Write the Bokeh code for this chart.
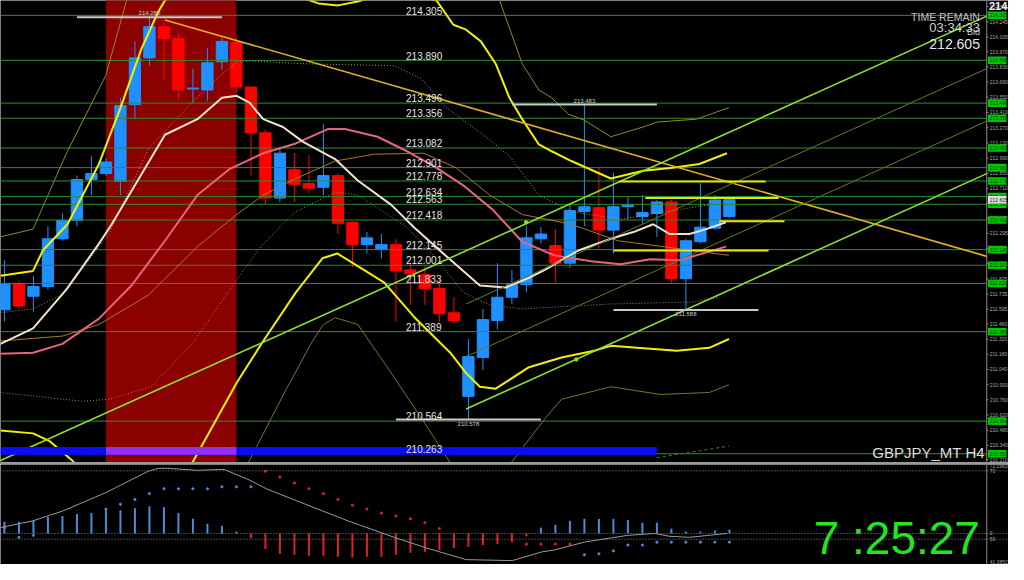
import numpy as np
from bokeh.plotting import figure
from bokeh.layouts import column
from bokeh.models import Range1d, Span
from bokeh.core.properties import value
from bokeh.embed import file_html
from bokeh.resources import INLINE

# ---------------- candles (H4 GBPJPY) ----------------
bars = list(range(51))
opens = [211.590, 211.832, 211.715, 211.805, 212.245, 212.415, 212.792, 212.846, 212.774, 213.482,
         213.913, 214.200, 214.092, 213.626, 213.617, 213.877, 214.056, 213.644, 213.222, 212.621,
         212.881, 212.756, 212.720, 212.828, 212.397, 212.191, 212.146, 212.191, 211.958, 211.913,
         211.787, 211.563, 210.792, 211.150, 211.491, 211.706, 211.823, 212.245, 212.182, 212.020,
         212.496, 212.532, 212.325, 212.541, 212.451, 212.478, 212.585, 211.877, 212.218, 212.343,
         212.451]
closes = [211.832, 211.626, 211.805, 212.245, 212.415, 212.792, 212.846, 212.953, 213.473, 213.913,
          214.200, 214.092, 213.617, 213.635, 213.868, 214.065, 213.644, 213.222, 212.621, 213.034,
          212.747, 212.711, 212.828, 212.388, 212.191, 212.254, 212.191, 211.949, 211.922, 211.787,
          211.554, 211.491, 211.159, 211.500, 211.706, 211.823, 212.254, 212.289, 212.020, 212.505,
          212.541, 212.325, 212.541, 212.558, 212.487, 212.585, 211.877, 212.227, 212.352, 212.603,
          212.605]
highs = [212.047, 211.859, 211.904, 212.361, 212.478, 212.828, 213.007, 212.989, 213.545, 214.065,
         214.288, 214.263, 214.146, 213.814, 214.003, 214.101, 214.101, 213.653, 213.249, 213.079,
         213.034, 213.016, 213.303, 212.846, 212.406, 212.307, 212.289, 212.245, 212.020, 211.993,
         211.868, 211.706, 211.321, 211.599, 212.020, 211.958, 212.361, 212.352, 212.334, 212.558,
         213.483, 212.899, 212.855, 212.630, 212.648, 212.603, 212.603, 212.245, 212.756, 212.648,
         212.612]
lows = [211.482, 211.599, 211.572, 211.778, 212.227, 212.361, 212.648, 212.828, 212.648, 213.348,
        213.841, 213.707, 213.518, 213.500, 213.518, 213.805, 213.590, 212.828, 212.558, 212.585,
        212.585, 212.666, 212.648, 212.289, 211.982, 212.110, 212.065, 211.482, 211.635, 211.635,
        211.482, 211.464, 210.578, 211.034, 211.410, 211.644, 211.751, 212.200, 211.841, 211.976,
        212.361, 212.155, 212.110, 212.424, 212.379, 212.263, 211.841, 211.588, 212.200, 212.325,
        212.433]

# ---------------- horizontal levels ----------------
levels = [214.305, 213.890, 213.496, 213.356, 213.082, 212.901, 212.778, 212.634, 212.563,
          212.418, 212.145, 212.001, 211.833, 211.389, 210.564, 210.263]
bid = 212.605
axis_ticks = [214.385, 214.245, 214.105, 213.970, 213.830, 213.690, 213.550, 213.410, 213.270,
              213.130, 212.990, 212.850, 212.710, 212.570, 212.435, 212.295, 212.155, 212.015,
              211.875, 211.735, 211.595, 211.460, 211.320, 211.180, 211.040, 210.900, 210.760,
              210.620, 210.480, 210.340, 210.210]

zone_start, zone_end = 7, 16
band_low, band_high, band_end = 210.255, 210.325, 45

hl_bar = [10, 40, 32, 47]
hl_price = [214.288, 213.483, 210.578, 211.588]
hl_is_high = [True, True, False, False]

sr_price = [212.774, 212.621, 212.406, 212.137]
sr_from = [42.4, 44.2, 49.3, 42.0]
sr_to = [52.5, 53.4, 53.8, 52.7]

# ---------------- trend lines ----------------
tl_down_x, tl_down_y = [11.07, 67.75], [214.263, 212.083]
ch1_x, ch1_y = [-0.27, 67.75], [210.200, 214.298]
ch2_x, ch2_y = [31.84, 67.75], [210.675, 212.846]
chA_x, chA_y = [31.84, 67.75], [211.644, 213.814]
chB_x, chB_y = [31.84, 67.75], [211.159, 213.330]
anchor_x, anchor_y = [35.98, 39.44], [212.397, 211.133]
dash_x, dash_y = [45.0, 49.97], [210.227, 210.334]

# ---------------- moving averages / bands ----------------
ma_fast_x = [-0.27, 1.97, 4.28, 6.52, 7.40, 11.07, 13.31, 15.0, 16.02, 16.9, 17.85, 19.21, 20.57,
             22.81, 24.37, 26.68, 28.24, 30.48, 32.79, 34.56, 36.18, 37.27, 39.58, 41.82, 43.38,
             44.74, 45.89, 47.25, 48.4, 49.76]
ma_fast_y = [211.276, 211.419, 211.778, 212.200, 212.379, 213.204, 213.348, 213.545, 213.563,
             213.500, 213.348, 213.276, 213.141, 212.980, 212.783, 212.558, 212.352, 212.083,
             211.814, 211.796, 211.886, 211.958, 212.137, 212.245, 212.307, 212.379, 212.289,
             212.289, 212.334, 212.397]
ma_slow_x = [-0.27, 1.97, 4.0, 6.52, 8.76, 11.07, 13.31, 15.55, 17.85, 20.1, 22.34, 23.49, 25.73,
             27.77, 29.6, 31.64, 33.67, 35.71, 37.95, 40.46, 42.5, 44.53, 46.57, 49.76]
ma_slow_y = [211.186, 211.195, 211.276, 211.509, 211.814, 212.227, 212.648, 212.890, 213.034,
             213.124, 213.258, 213.258, 213.186, 213.052, 212.917, 212.738, 212.514, 212.218,
             212.092, 212.038, 212.011, 212.056, 212.047, 212.173]
mid_x = [-0.27, 4.0, 6.52, 9.91, 13.31, 16.02, 17.85, 20.1, 22.81, 25.53, 28.92, 31.16, 33.47,
         35.71, 39.1, 42.3, 45.42, 49.97]
mid_y = [211.303, 211.348, 211.455, 211.724, 212.173, 212.469, 212.648, 212.801, 212.962, 213.025,
         213.034, 212.899, 212.648, 212.469, 212.379, 212.227, 212.173, 212.092]
dot_up_x = [-0.27, 1.97, 4.0, 7.2, 9.91, 12.42, 14.46, 16.02, 16.9, 20.57, 26.88, 28.72, 30.48,
            33.2, 34.83, 36.86, 39.1, 42.5, 45.21, 48.61]
dot_up_y = [211.563, 211.599, 211.733, 212.289, 213.070, 213.429, 213.698, 213.877, 213.886,
            213.859, 213.841, 213.724, 213.455, 213.186, 213.007, 212.648, 212.496, 212.424,
            212.487, 212.558]
dot_lo_x = [-0.27, 5.36, 7.2, 10.12, 13.1, 16.02, 17.85, 20.1, 22.81, 24.37, 27.77, 29.6, 31.64,
            33.47, 35.71, 41.82, 47.46, 49.29]
dot_lo_y = [210.828, 210.747, 210.765, 210.881, 211.303, 211.868, 212.200, 212.496, 212.675,
            212.648, 212.352, 212.092, 211.751, 211.635, 211.599, 211.644, 211.662, 211.706]
bb_up_x = [-0.27, 1.97, 2.65, 4.35, 6.52, 8.01, 9.44, 10.59, 11.07, 13.99, 18.74, 21.66, 23.01,
           24.37, 26.88, 29.8, 30.96, 31.84, 32.86, 33.88, 34.83, 35.71, 36.86, 37.75, 39.1,
           41.82, 44.06, 46.1, 47.93, 49.83]
bb_up_y = [211.904, 211.949, 212.137, 212.379, 212.935, 213.455, 213.994, 214.334, 214.442,
           214.756, 214.550, 214.415, 214.397, 214.433, 214.532, 214.442, 214.218, 214.173,
           214.065, 213.859, 213.545, 213.348, 213.115, 213.052, 212.962, 212.801, 212.872,
           212.899, 212.935, 213.034]
bb_lo_x = [-0.27, 1.97, 3.12, 4.68, 6.52, 9.91, 12.29, 12.97, 16.02, 17.85, 20.1, 21.93, 22.95,
           24.37, 26.2, 28.24, 30.75, 31.84, 32.79, 33.88, 36.18, 38.42, 40.67, 41.82, 46.37,
           48.61, 49.97]
bb_lo_y = [210.478, 210.451, 210.379, 210.200, 209.958, 209.780, 210.092, 210.182, 210.917,
           211.303, 211.751, 212.065, 212.110, 211.993, 211.841, 211.527, 211.195, 211.007,
           210.881, 210.863, 211.061, 211.150, 211.213, 211.258, 211.213, 211.240, 211.321]
out_up_x = [-0.27, 1.97, 4.28, 6.99, 8.42, 11.95, 23.49, 32.32, 34.15, 35.71, 36.86, 37.75, 38.9,
            39.99, 41.82, 44.06, 45.01, 47.73, 49.97]
out_up_y = [212.263, 212.334, 213.034, 213.751, 214.442, 215.249, 215.518, 214.801, 214.442,
            213.859, 213.617, 213.545, 213.393, 213.339, 213.186, 213.276, 213.321, 213.348,
            213.455]
out_lo_x = [14.66, 16.9, 19.42, 21.25, 22.0, 22.81, 24.37, 26.68, 28.92, 30.96, 33.67, 37.27,
            38.42, 41.82, 45.21, 48.61, 49.97]
out_lo_y = [209.780, 210.200, 210.854, 211.303, 211.455, 211.518, 211.455, 211.007, 210.558,
            210.137, 209.958, 210.585, 210.765, 210.881, 210.810, 210.828, 210.899]

# ---------------- lower panel ----------------
hist = [0.12, 0.12, 0.13, 0.17, 0.18, 0.20, 0.21, 0.24, 0.24, 0.26, 0.28, 0.27, 0.21, 0.15, 0.10,
        0.08, 0.02,
        -0.05, -0.16, -0.21, -0.22, -0.23, -0.23, -0.24, -0.25, -0.24, -0.24, -0.22, -0.20, -0.19,
        -0.17, -0.15, -0.14, -0.12, -0.11, -0.09, -0.03,
        0.06, 0.09, 0.13, 0.15, 0.15, 0.15, 0.14, 0.11, 0.11, 0.05, 0.02, 0.02, 0.03, 0.04]
nan = float("nan")
signal = [0.06, -0.04, -0.02, nan, nan, nan, nan, 0.25, 0.30, 0.35, 0.41, 0.46, 0.46, 0.46, 0.46,
          0.48, 0.48, 0.48, 0.64, 0.58, 0.52, 0.46, 0.41, 0.35, 0.29, 0.25, 0.21, 0.18, 0.15, 0.11,
          0.05, nan, nan, nan, nan, nan, -0.11, -0.11, -0.11, -0.11, -0.22, -0.21, -0.18, -0.12,
          -0.12, -0.09, -0.09, -0.09, -0.09, -0.09, -0.09]
signal_red_from, signal_red_to = 18, 40
osc_x = [-0.27, 1.97, 4.0, 6.99, 9.91, 10.59, 11.27, 13.31, 15.14, 16.9, 18.06, 21.45, 23.69,
         26.88, 29.12, 31.84, 35.03, 37.07, 37.95, 39.99, 42.97, 44.87, 45.89, 47.25, 49.83]
osc_y = [53.40, 55.39, 58.22, 63.61, 69.85, 70.71, 70.71, 70.14, 70.42, 67.30, 64.75, 59.07, 55.39,
         50.56, 47.44, 44.04, 43.76, 46.31, 46.88, 49.15, 51.13, 51.70, 50.85, 50.56, 51.70]
osc_levels = [70, 50]
osc_top, osc_bottom = 72.1963, 41.3852
clock_text = "7 :25:27"

# ---------------- layout constants ----------------
W, H_MAIN, H_IND = 1008, 464, 100
X0, X1 = -0.2716, 69.25
AXIS_X = 67.75
Y0, Y1 = 210.164, 214.442
PX = (Y1 - Y0) / H_MAIN          # price per screen pixel
FONT = value("Liberation Sans")
BLUE, RED = "#1E90FF", "#FF0000"

main_x = Range1d(X0, X1)


def base_fig(h, y_range):
    f = figure(width=W, height=h, x_range=main_x, y_range=y_range, output_backend="svg",
               toolbar_location=None, x_axis_location=None, y_axis_location=None,
               background_fill_color="black", border_fill_color="black",
               outline_line_color=None, min_border=0)
    f.grid.grid_line_color = None
    return f


main = base_fig(H_MAIN, Range1d(Y0, Y1))

# background zone
main.quad(left=[zone_start], right=[zone_end], bottom=[Y0 - 1], top=[Y1 + 1],
          fill_color="#8B0000", line_color=None)

# candles
cols = [BLUE if c >= o else RED for o, c in zip(opens, closes)]
main.segment(x0=bars, x1=bars, y0=highs, y1=lows, line_color=cols, line_width=1)
main.vbar(x=bars, width=0.78, top=np.maximum(opens, closes), bottom=np.minimum(opens, closes),
          fill_color=cols, line_color=cols, line_width=1)

# level lines
n = len(levels)
main.segment(x0=[X0] * n, x1=[AXIS_X] * n, y0=levels, y1=levels, line_color="#2E8E2E", line_width=1)

# bands / averages
main.line(out_up_x, out_up_y, line_color="#8C8C28", line_width=1)
main.line(out_lo_x, out_lo_y, line_color="#7A7426", line_width=1)
main.line(mid_x, mid_y, line_color="#A87A2C", line_width=1)
main.line(dot_up_x, dot_up_y, line_color="#B49650", line_width=1, line_dash="1 2")
main.line(dot_lo_x, dot_lo_y, line_color="#A08C50", line_width=1, line_dash="1 2")
main.line(ma_slow_x, ma_slow_y, line_color="#E8647E", line_width=2)
main.line(ma_fast_x, ma_fast_y, line_color="#F2E2CC", line_width=2)
main.line(bb_up_x, bb_up_y, line_color="#F0F000", line_width=2)
main.line(bb_lo_x, bb_lo_y, line_color="#F0F000", line_width=2)

# trend lines
main.line(tl_down_x, tl_down_y, line_color="#E0B020", line_width=1.6)
main.line(chA_x, chA_y, line_color="#5E7E20", line_width=1)
main.line(chB_x, chB_y, line_color="#5E7E20", line_width=1)
main.line(ch1_x, ch1_y, line_color="#8EE02A", line_width=1.6)
main.line(ch2_x, ch2_y, line_color="#8EE02A", line_width=1.6)
main.scatter(anchor_x, anchor_y, size=3.5, color="#8EE02A")
main.line(dash_x, dash_y, line_color="#4E7E20", line_width=1, line_dash="3 3")

# support/resistance segments
main.segment(x0=sr_from, x1=sr_to, y0=sr_price, y1=sr_price, line_color="#E6E600", line_width=2)

# high / low markers
hl_x0 = [b - 5 for b in hl_bar]
hl_x1 = [b + 5 for b in hl_bar]
main.segment(x0=hl_x0, x1=hl_x1, y0=hl_price, y1=hl_price, line_color="#C8C8C8", line_width=2)
hl_ty = [p + (4 * PX if h else -4 * PX) for p, h in zip(hl_price, hl_is_high)]
main.text(x=hl_bar, y=hl_ty, text=[f"{p:.3f}" for p in hl_price], text_font=FONT,
          text_font_size="6px", text_color="#C8C8C8", text_align="center", text_baseline="middle")

# blue band
main.quad(left=[X0], right=[band_end], bottom=[band_low], top=[band_high],
          fill_color="#0A0AFF", line_color=None)
main.quad(left=[zone_start], right=[zone_end], bottom=[band_low], top=[band_high],
          fill_color="#9030F0", line_color=None)

# level labels
main.text(x=[27.7] * n, y=[v + 4.8 * PX for v in levels], text=[f"{v:.3f}" for v in levels],
          text_font=FONT, text_font_size="10px", text_color="#E4E4E4",
          text_align="left", text_baseline="middle")

# separator between panels
main.add_layout(Span(location=Y0 + 1.5 * PX, dimension="width", line_color="#9A9A9A", line_width=2))

# right price axis
main.add_layout(Span(location=AXIS_X, dimension="height", line_color="#8C8C8C", line_width=1))
m = len(axis_ticks)
main.segment(x0=[AXIS_X] * m, x1=[AXIS_X + 0.12] * m, y0=axis_ticks, y1=axis_ticks,
             line_color="#8C8C8C", line_width=1)
main.text(x=[AXIS_X + 0.2] * m, y=axis_ticks, text=[f"{v:.3f}" for v in axis_ticks],
          text_font=FONT, text_font_size="5px", text_color="#A8A8A8", text_baseline="middle")
main.quad(left=[AXIS_X + 0.08] * n, right=[AXIS_X + 1.36] * n,
          bottom=[v - 3.8 * PX for v in levels], top=[v + 3.8 * PX for v in levels],
          fill_color="#00C800", line_color=None)
main.text(x=[AXIS_X + 0.2] * n, y=levels, text=[f"{v:.3f}" for v in levels],
          text_font=FONT, text_font_size="5px", text_color="#064006", text_baseline="middle")
main.quad(left=[AXIS_X + 0.08], right=[AXIS_X + 1.36], bottom=[bid - 3.8 * PX], top=[bid + 3.8 * PX],
          fill_color="#E0E0E0", line_color=None)
main.text(x=[AXIS_X + 0.2], y=[bid], text=[f"{bid:.3f}"], text_font=FONT, text_font_size="5px",
          text_color="#202020", text_baseline="middle")
main.text(x=[AXIS_X + 0.15], y=[Y1 - 5.5 * PX], text=["214"], text_font=FONT, text_font_size="11px",
          text_font_style="bold", text_color="#F0F0F0", text_baseline="middle")

# info texts (top right)
RX = 67.28
main.text(x=[RX], y=[Y1 - 16.5 * PX], text=["TIME REMAIN"], text_font=FONT, text_font_size="10.5px",
          text_color="#C4C4C4", text_align="right", text_baseline="middle")
main.text(x=[RX], y=[Y1 - 26.5 * PX], text=["03:34:33"], text_font=FONT, text_font_size="13px",
          text_color="#D4D4D4", text_align="right", text_baseline="middle")
main.text(x=[RX], y=[Y1 - 31.8 * PX], text=["Bid"], text_font=FONT, text_font_size="9px",
          text_color="#C4C4C4", text_align="right", text_baseline="middle")
main.text(x=[RX], y=[Y1 - 43.8 * PX], text=[f"{bid:.3f}"], text_font=FONT, text_font_size="14px",
          text_color="#E8E8E8", text_align="right", text_baseline="middle")
main.text(x=[67.62], y=[Y0 + 12.5 * PX], text=["GBPJPY_MT H4"], text_font=FONT,
          text_font_size="15px", text_color="#DCDCDC", text_align="right", text_baseline="middle")

# ---------------- lower panel ----------------
OY0, OY1 = 42.62, 71.84
ind = base_fig(H_IND, Range1d(OY0, OY1))
ind.extra_y_ranges = {"hist": Range1d(-0.32, 0.71)}
OPX = (OY1 - OY0) / H_IND

for lv in osc_levels:
    ind.add_layout(Span(location=lv, dimension="width", line_color="#8A8A8A", line_width=1,
                        line_dash="1 2"))
ind.add_layout(Span(location=0, dimension="width", line_color="#8A8A8A", line_width=1,
                    line_dash="1 2", y_range_name="hist"))
ind.add_layout(Span(location=AXIS_X, dimension="height", line_color="#8C8C8C", line_width=1))

hcols = ["#4A8CDC" if v >= 0 else "#E0202A" for v in hist]
ind.segment(x0=bars, x1=bars, y0=[0] * len(bars), y1=hist, line_color=hcols, line_width=2,
            y_range_name="hist")
scols = ["#E0202A" if signal_red_from <= i < signal_red_to else "#4A8CDC" for i in bars]
ind.scatter(bars, signal, size=2.2, color=scols, y_range_name="hist")
ind.line(osc_x, osc_y, line_color="#9A9A9A", line_width=1)

ind.text(x=[AXIS_X + 0.2] * 4, y=[OY1 - 1.6 * OPX, 70, 50, OY0 + 2.5 * OPX],
         text=[f"{osc_top:.4f}", "70", "50", f"{osc_bottom:.4f}"],
         text_font=FONT, text_font_size="5px", text_color="#A8A8A8", text_baseline="middle")
ind.text(x=[AXIS_X + 0.2], y=[0], text=["0"], text_font=FONT, text_font_size="5px",
         text_color="#A8A8A8", text_baseline="middle", y_range_name="hist")
ind.text(x=[RX], y=[OY1 - 73.0 * OPX], text=[clock_text], text_font=FONT, text_font_size="46px",
         text_color="#22E622", text_align="right", text_baseline="middle")

layout = column(main, ind, spacing=0)
open("out.html", "w").write(file_html(layout, INLINE))
